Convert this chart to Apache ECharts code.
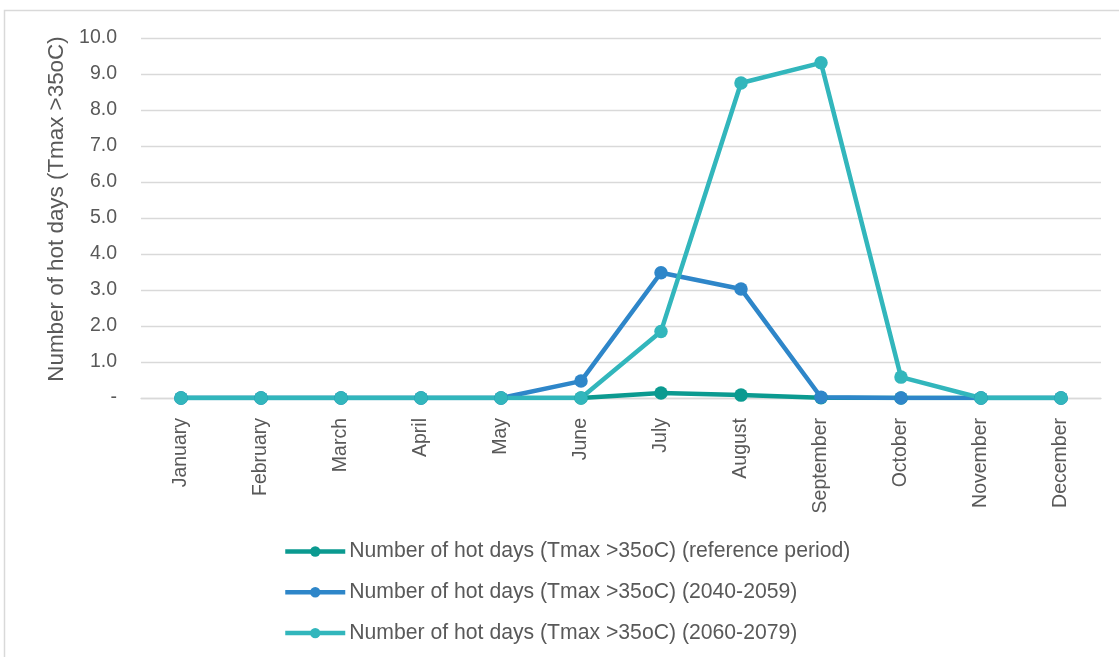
<!DOCTYPE html>
<html>
<head>
<meta charset="utf-8">
<script src="https://cdn.jsdelivr.net/npm/echarts@6/dist/echarts.min.js"></script>
<style>
  html, body { margin: 0; padding: 0; background: #ffffff; }
  #chart { width: 1119px; height: 657px; }
</style>
</head>
<body>
<div id="chart"></div>
<script>
// Monthly count of hot days (Tmax > 35 °C) for three periods
const months = ['January', 'February', 'March', 'April', 'May', 'June',
  'July', 'August', 'September', 'October', 'November', 'December'];
const referencePeriod = [0, 0, 0, 0, 0, 0, 0.14, 0.08, 0.01, 0, 0, 0];
const period2040 = [0, 0, 0, 0, 0, 0.47, 3.48, 3.03, 0.02, 0, 0, 0];
const period2060 = [0, 0, 0, 0, 0, 0, 1.85, 8.75, 9.31, 0.58, 0, 0];
const yTicks = { min: 0, max: 10, step: 1 };
const seriesNames = [
  'Number of hot days (Tmax >35oC) (reference period)',
  'Number of hot days (Tmax >35oC) (2040-2059)',
  'Number of hot days (Tmax >35oC) (2060-2079)'
];
const seriesColors = ['#0b9a90', '#2e86c9', '#32b6bc'];

const FONT = "'Liberation Sans', Arial, sans-serif";
const TEXT = '#595959';
const GRID = '#d9d9d9';

const chart = echarts.init(document.getElementById('chart'), null, { renderer: 'canvas' });

function lineSeries(name, data, color) {
  return {
    name: name,
    type: 'line',
    data: data,
    symbol: 'circle',
    symbolSize: 13.5,
    lineStyle: { color: color, width: 4.5 },
    itemStyle: { color: color },
    emphasis: { disabled: true },
    animation: false
  };
}

chart.setOption({
  animation: false,
  backgroundColor: '#ffffff',
  textStyle: { fontFamily: FONT, color: TEXT },
  graphic: [{
    type: 'rect',
    shape: { x: 4.5, y: 10.5, width: 1200, height: 700 },
    style: { fill: 'none', stroke: GRID, lineWidth: 1.5 },
    silent: true
  }],
  grid: { left: 141, right: 18, top: 38, bottom: 259, containLabel: false },
  legend: {
    orient: 'vertical',
    left: 283,
    top: 541,
    padding: 0,
    itemWidth: 60,
    itemHeight: 13,
    itemGap: 19.8,
    lineStyle: { width: 4.5 },
    textStyle: { fontFamily: FONT, fontSize: 21.2, color: TEXT, padding: [0, 0, 0, -1] },
    data: seriesNames
  },
  xAxis: {
    type: 'category',
    data: months,
    boundaryGap: true,
    axisLine: { show: true, lineStyle: { color: GRID, width: 1.3 } },
    axisTick: { show: false },
    axisLabel: {
      rotate: 90,
      interval: 0,
      margin: 20,
      fontFamily: FONT,
      fontSize: 19.5,
      color: TEXT
    }
  },
  yAxis: {
    type: 'value',
    min: yTicks.min,
    max: yTicks.max,
    interval: yTicks.step,
    name: 'Number of hot days (Tmax >35oC)',
    nameLocation: 'middle',
    nameGap: 73,
    nameTextStyle: { fontFamily: FONT, fontSize: 22.4, color: TEXT, padding: [0, 0, 0, 18] },
    axisLine: { show: false },
    axisTick: { show: false },
    splitLine: { lineStyle: { color: GRID, width: 1.3 } },
    axisLabel: {
      margin: 24,
      fontFamily: FONT,
      fontSize: 19.5,
      color: TEXT,
      formatter: function (v) { return v === 0 ? '-' : v.toFixed(1); }
    }
  },
  series: [
    lineSeries(seriesNames[0], referencePeriod, seriesColors[0]),
    lineSeries(seriesNames[1], period2040, seriesColors[1]),
    lineSeries(seriesNames[2], period2060, seriesColors[2])
  ]
});
</script>
</body>
</html>
